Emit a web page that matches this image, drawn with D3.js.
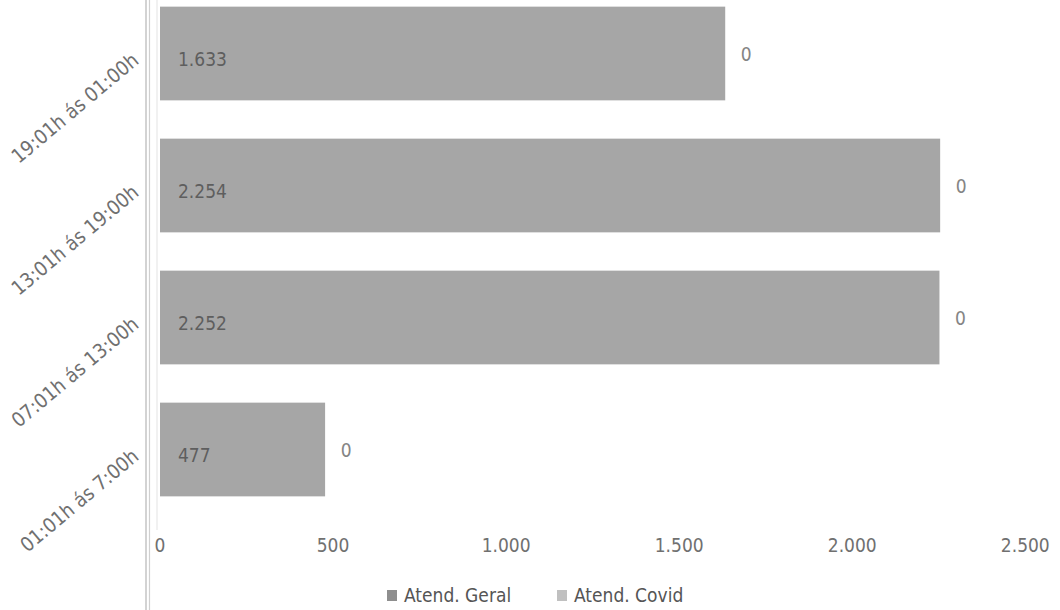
<!DOCTYPE html>
<html>
<head>
<meta charset="utf-8">
<script src="https://cdn.jsdelivr.net/npm/d3@7"></script>
<style>
  html, body { margin: 0; padding: 0; background: #fff; }
  svg text { font-family: "Liberation Sans Narrow", "DejaVu Sans Condensed", "Arial Narrow", sans-serif; }
</style>
</head>
<body>
<svg id="chart" width="1060" height="610"></svg>
<script>
// ---- data ----
const categories = ["19:01h ás 01:00h", "13:01h ás 19:00h", "07:01h ás 13:00h", "01:01h ás 7:00h"];
const atendGeral = [1633, 2254, 2252, 477];
const atendCovid = [0, 0, 0, 0];
const seriesNames = ["Atend. Geral", "Atend. Covid"];
const tickValues = [0, 500, 1000, 1500, 2000, 2500];
const tickLabels = ["0", "500", "1.000", "1.500", "2.000", "2.500"];

const fmt = v => v.toLocaleString("de-DE");

const rows = categories.map((c, i) => ({ cat: c, geral: atendGeral[i], covid: atendCovid[i] }));
const stack = d3.stack().keys(["geral", "covid"])(rows);

const svg = d3.select("#chart");

const x = d3.scaleLinear().domain([0, 2500]).range([160, 1025.3]);
const y = d3.scaleBand().domain(categories).range([-12.5, 515.5]).paddingInner(0.29).paddingOuter(0.145);

const colors = { geral: "#a6a6a6", covid: "#c4c4c4" };

// left axis frame lines
svg.append("line").attr("x1", 146).attr("x2", 146).attr("y1", 0).attr("y2", 610).attr("stroke", "#c4c4c4").attr("stroke-width", 1.5);
svg.append("line").attr("x1", 149.5).attr("x2", 149.5).attr("y1", 0).attr("y2", 610).attr("stroke", "#d0d0d0").attr("stroke-width", 1.2);
svg.append("line").attr("x1", 157).attr("x2", 157).attr("y1", 0).attr("y2", 530).attr("stroke", "#ececec").attr("stroke-width", 1.5);

// bars
stack.forEach(layer => {
  svg.append("g").selectAll("rect").data(layer).join("rect")
    .attr("x", d => x(d[0]))
    .attr("y", d => y(d.data.cat))
    .attr("width", d => x(d[1]) - x(d[0]))
    .attr("height", y.bandwidth())
    .attr("fill", colors[layer.key]);
});

// value labels inside (geral)
svg.append("g").selectAll("text").data(rows).join("text")
  .attr("x", x(0) + 18)
  .attr("y", d => y(d.cat) + y.bandwidth() / 2 + 12)
  .attr("font-size", 19)
  .attr("fill", "#5e5e5e")
  .text(d => fmt(d.geral));

// covid labels
svg.append("g").selectAll("text").data(rows).join("text")
  .attr("x", d => x(d.geral + d.covid) + 21)
  .attr("y", d => y(d.cat) + y.bandwidth() / 2 + 7)
  .attr("text-anchor", "middle")
  .attr("font-size", 19)
  .attr("fill", "#858585")
  .text(d => fmt(d.covid));

// x tick labels
svg.append("g").selectAll("text").data(tickValues).join("text")
  .attr("x", d => x(d))
  .attr("y", 552)
  .attr("text-anchor", "middle")
  .attr("font-size", 19)
  .attr("fill", "#707070")
  .text((d, i) => tickLabels[i]);

// category labels, rotated
svg.append("g").selectAll("text").data(categories).join("text")
  .attr("transform", d => `translate(140, ${y(d) + y.bandwidth() / 2 + 9}) rotate(-40)`)
  .attr("text-anchor", "end")
  .attr("font-size", 20)
  .attr("fill", "#707070")
  .text(d => d);

// legend
const legendX = [387, 557];
const lg = svg.append("g");
seriesNames.forEach((name, i) => {
  lg.append("rect").attr("x", legendX[i]).attr("y", 590).attr("width", 10).attr("height", 11)
    .attr("fill", i === 0 ? "#8e8e8e" : "#c0c0c0");
  lg.append("text").attr("x", legendX[i] + 17).attr("y", 602)
    .attr("font-size", 19).attr("fill", "#555").text(name);
});
</script>
</body>
</html>
